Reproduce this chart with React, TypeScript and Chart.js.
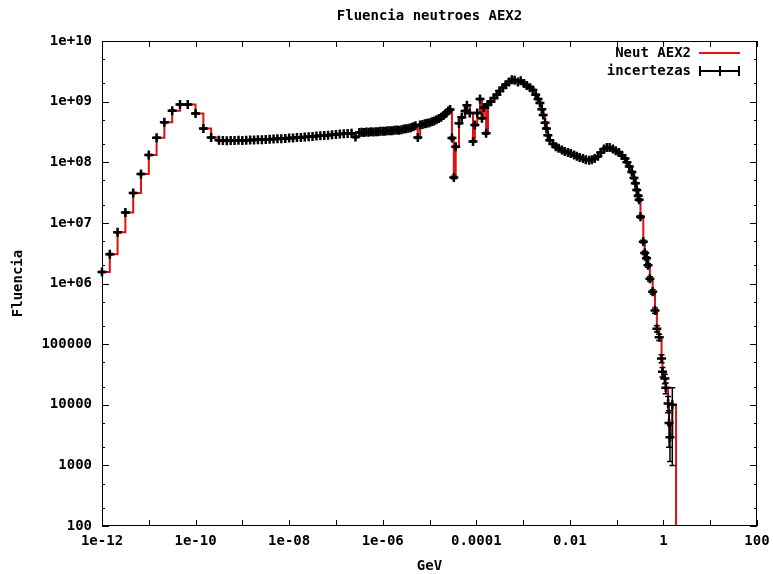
import { useEffect, useRef } from "react";
import { Chart, registerables } from "chart.js";

Chart.register(...registerables);

// ---- Data ----
// log10 of the energy in GeV
const logEnergy: number[] = [
  // 6 bins / decade (thermal)
  -12, -11.833, -11.667, -11.5, -11.333, -11.167, -11, -10.833, -10.667, -10.5,
  -10.333, -10.167, -10, -9.833, -9.667,
  // epithermal plateau
  -9.5, -9.417, -9.333, -9.25, -9.167, -9.083, -9, -8.917, -8.833, -8.75,
  -8.667, -8.583, -8.5, -8.417, -8.333, -8.25, -8.167, -8.083, -8, -7.917,
  -7.833, -7.75, -7.667, -7.583, -7.5, -7.417, -7.333, -7.25, -7.167, -7.083,
  -7, -6.917, -6.833, -6.75, -6.667, -6.583, -6.5,
  // 20 bins / decade
  -6.45, -6.4, -6.35, -6.3, -6.25, -6.2, -6.15, -6.1, -6.05, -6,
  -5.95, -5.9, -5.85, -5.8, -5.75, -5.7, -5.65, -5.6, -5.55, -5.5,
  -5.45, -5.4, -5.35, -5.3, -5.25, -5.2, -5.15, -5.1, -5.05, -5,
  -4.95, -4.9, -4.85, -4.8, -4.75, -4.7, -4.65,
  // resonances, fast peak and fall-off
  -4.6, -4.56, -4.52, -4.48, -4.44, -4.37, -4.31, -4.24, -4.2, -4.14,
  -4.07, -4.03, -3.98, -3.92, -3.88, -3.84, -3.79, -3.75, -3.69, -3.62,
  -3.56, -3.5, -3.43, -3.37, -3.3, -3.24, -3.18, -3.11, -3.05, -2.98,
  -2.92, -2.85, -2.79, -2.73, -2.68, -2.64, -2.6, -2.57, -2.53, -2.5,
  -2.47, -2.43, -2.36, -2.3, -2.24, -2.17, -2.11, -2.04, -1.98, -1.91,
  -1.85, -1.79, -1.72, -1.66, -1.59, -1.53, -1.47, -1.4, -1.34, -1.27,
  -1.21, -1.15, -1.08, -1.02, -0.95, -0.89, -0.82, -0.78, -0.73, -0.675,
  -0.63, -0.6, -0.57, -0.54, -0.52, -0.49, -0.43, -0.4, -0.36, -0.33,
  -0.29, -0.23, -0.18, -0.14, -0.09, -0.04, -0.02, 0.03, 0.05, 0.1,
  0.12, 0.14, 0.19, 0.27,
];

const fluence: number[] = [
  1.55e6, 3.05e6, 7.0e6, 1.48e7, 3.1e7, 6.4e7, 1.32e8, 2.54e8, 4.55e8, 7.1e8,
  9.0e8, 9.0e8, 6.4e8, 3.6e8, 2.55e8,
  2.3e8, 2.28e8, 2.27e8, 2.29e8, 2.28e8, 2.3e8, 2.29e8, 2.31e8, 2.32e8, 2.33e8,
  2.35e8, 2.36e8, 2.38e8, 2.4e8, 2.41e8, 2.43e8, 2.45e8, 2.47e8, 2.5e8, 2.52e8,
  2.55e8, 2.57e8, 2.6e8, 2.63e8, 2.66e8, 2.7e8, 2.73e8, 2.77e8, 2.8e8, 2.84e8,
  2.88e8, 2.92e8, 2.95e8, 2.99e8, 3.02e8, 2.62e8, 3.1e8,
  3.12e8, 3.1e8, 3.15e8, 3.13e8, 3.18e8, 3.16e8, 3.2e8, 3.19e8, 3.24e8, 3.26e8,
  3.25e8, 3.3e8, 3.32e8, 3.3e8, 3.36e8, 3.4e8, 3.38e8, 3.45e8, 3.52e8, 3.58e8,
  3.65e8, 3.72e8, 3.85e8, 4.0e8, 2.55e8, 4.1e8, 4.2e8, 4.3e8, 4.4e8, 4.5e8,
  4.65e8, 4.8e8, 5.0e8, 5.25e8, 5.5e8, 5.9e8, 6.4e8,
  7.0e8, 7.4e8, 2.5e8, 5.6e7, 1.8e8, 4.4e8, 5.5e8, 7.0e8, 8.7e8, 6.5e8,
  2.2e8, 4.1e8, 6.5e8, 1.1e9, 5.3e8, 8.0e8, 3.0e8, 9.0e8, 1.0e9, 1.15e9,
  1.3e9, 1.5e9, 1.7e9, 1.9e9, 2.1e9, 2.3e9, 2.25e9, 2.1e9, 2.2e9, 2.0e9,
  1.85e9, 1.7e9, 1.55e9, 1.3e9, 1.1e9, 9.5e8, 7.5e8, 6.0e8, 4.5e8, 3.6e8,
  2.8e8, 2.3e8, 2.0e8, 1.8e8, 1.7e8, 1.6e8, 1.5e8, 1.45e8, 1.4e8, 1.32e8,
  1.25e8, 1.2e8, 1.15e8, 1.1e8, 1.08e8, 1.1e8, 1.15e8, 1.25e8, 1.45e8, 1.65e8,
  1.75e8, 1.75e8, 1.65e8, 1.55e8, 1.45e8, 1.3e8, 1.15e8, 1.0e8, 8.5e7, 6.9e7,
  5.5e7, 4.5e7, 3.5e7, 2.8e7, 2.4e7, 1.26e7, 4.9e6, 3.2e6, 2.6e6, 2.0e6,
  1.2e6, 7.3e5, 3.6e5, 1.8e5, 1.3e5, 5.8e4, 3.5e4, 2.7e4, 1.9e4, 1.05e4,
  5.0e3, 2.9e3, 1.0e4, 1,
];

// relative uncertainty of each bin
const relError: number[] = [
  0.02, 0.02, 0.02, 0.02, 0.02, 0.02, 0.02, 0.02, 0.02, 0.02,
  0.02, 0.02, 0.02, 0.02, 0.02,
  0.02, 0.02, 0.02, 0.02, 0.02, 0.02, 0.02, 0.02, 0.02, 0.02,
  0.02, 0.02, 0.02, 0.02, 0.02, 0.02, 0.02, 0.02, 0.02, 0.02,
  0.02, 0.02, 0.02, 0.02, 0.02, 0.02, 0.02, 0.02, 0.02, 0.02,
  0.02, 0.02, 0.02, 0.02, 0.02, 0.03, 0.02,
  0.02, 0.02, 0.02, 0.02, 0.02, 0.02, 0.02, 0.02, 0.02, 0.02,
  0.02, 0.02, 0.02, 0.02, 0.02, 0.02, 0.02, 0.02, 0.02, 0.02,
  0.02, 0.02, 0.02, 0.02, 0.03, 0.02, 0.02, 0.02, 0.02, 0.02,
  0.02, 0.02, 0.02, 0.02, 0.02, 0.02, 0.02,
  0.02, 0.02, 0.03, 0.05, 0.03, 0.02, 0.02, 0.02, 0.02, 0.02,
  0.03, 0.02, 0.02, 0.02, 0.02, 0.02, 0.03, 0.02, 0.02, 0.02,
  0.02, 0.02, 0.02, 0.02, 0.02, 0.02, 0.02, 0.02, 0.02, 0.02,
  0.02, 0.02, 0.02, 0.02, 0.02, 0.02, 0.02, 0.02, 0.02, 0.02,
  0.02, 0.02, 0.02, 0.02, 0.02, 0.02, 0.02, 0.02, 0.02, 0.02,
  0.02, 0.02, 0.02, 0.02, 0.02, 0.02, 0.02, 0.02, 0.02, 0.02,
  0.02, 0.02, 0.02, 0.02, 0.02, 0.02, 0.02, 0.02, 0.02, 0.03,
  0.03, 0.03, 0.03, 0.04, 0.04, 0.05, 0.05, 0.06, 0.06, 0.07,
  0.08, 0.08, 0.1, 0.12, 0.12, 0.15, 0.18, 0.18, 0.2, 0.3,
  0.6, 0.6, 0.9, 0,
];

const xTickValues = [1e-12, 1e-10, 1e-8, 1e-6, 1e-4, 1e-2, 1, 100];
const xTickLabels = ["1e-12", "1e-10", "1e-08", "1e-06", "0.0001", "0.01", "1", "100"];
const xMarkValues = [1e-12, 1e-11, 1e-10, 1e-9, 1e-8, 1e-7, 1e-6, 1e-5, 1e-4, 1e-3, 1e-2, 1e-1, 1, 10, 100];
const yTickValues = [100, 1000, 1e4, 1e5, 1e6, 1e7, 1e8, 1e9, 1e10];
const yTickLabels = ["100", "1000", "10000", "100000", "1e+06", "1e+07", "1e+08", "1e+09", "1e+10"];
const yMinorFactors = [2, 5];

const chartTitle = "Fluencia neutroes AEX2";
const xAxisTitle = "GeV";
const yAxisTitle = "Fluencia";
const seriesNames = ["Neut AEX2", "incertezas"];

const RED = "#e01010";
const FONT = "bold 14px 'DejaVu Sans Mono', 'Liberation Mono', monospace";

const points = logEnergy.map((l, i) => ({ x: Math.pow(10, l), y: fluence[i] }));

const framePlugin = {
  id: "gnuplotFrame",
  afterDatasetsDraw(chart: any) {
    const { ctx, chartArea, scales } = chart;
    const xs = scales.x;
    const ys = scales.y;
    ctx.save();
    ctx.strokeStyle = "#000";
    ctx.lineWidth = 1.5;
    for (let i = 0; i < points.length; i++) {
      const e = relError[i];
      if (!e) continue;
      const v = fluence[i];
      const px = xs.getPixelForValue(points[i].x);
      const hiV = v * (1 + e);
      const loV = v * (1 - e);
      let pyHi = ys.getPixelForValue(hiV);
      let pyLo = loV > 0 ? ys.getPixelForValue(loV) : chartArea.bottom;
      pyHi = Math.max(pyHi, chartArea.top);
      pyLo = Math.min(pyLo, chartArea.bottom);
      ctx.beginPath();
      ctx.moveTo(px, pyHi);
      ctx.lineTo(px, pyLo);
      ctx.moveTo(px - 3, pyHi);
      ctx.lineTo(px + 3, pyHi);
      ctx.moveTo(px - 3, pyLo);
      ctx.lineTo(px + 3, pyLo);
      ctx.stroke();
    }
    ctx.restore();
  },
  afterDraw(chart: any) {
    const { ctx, chartArea, scales } = chart;
    const xs = scales.x;
    const ys = scales.y;
    const { left, right, top, bottom } = chartArea;
    ctx.save();
    // border
    ctx.strokeStyle = "#000";
    ctx.lineWidth = 1;
    ctx.strokeRect(left + 0.5, top + 0.5, right - left - 1, bottom - top - 1);
    // ticks
    ctx.beginPath();
    xMarkValues.forEach((v) => {
      const px = Math.round(xs.getPixelForValue(v)) + 0.5;
      ctx.moveTo(px, bottom);
      ctx.lineTo(px, bottom - 6);
      ctx.moveTo(px, top);
      ctx.lineTo(px, top + 6);
    });
    yTickValues.forEach((v) => {
      const py = Math.round(ys.getPixelForValue(v)) + 0.5;
      ctx.moveTo(left, py);
      ctx.lineTo(left + 7, py);
      ctx.moveTo(right, py);
      ctx.lineTo(right - 7, py);
      yMinorFactors.forEach((f) => {
        const mv = v * f;
        if (mv < ys.max) {
          const my = Math.round(ys.getPixelForValue(mv)) + 0.5;
          ctx.moveTo(left, my);
          ctx.lineTo(left + 3, my);
          ctx.moveTo(right, my);
          ctx.lineTo(right - 3, my);
        }
      });
    });
    ctx.stroke();

    // titles
    ctx.fillStyle = "#000";
    ctx.font = FONT;
    ctx.textBaseline = "middle";
    ctx.textAlign = "center";
    ctx.fillText(chartTitle, (left + right) / 2, 16);
    ctx.fillText(xAxisTitle, (left + right) / 2, 566);
    ctx.save();
    ctx.translate(18, (top + bottom) / 2);
    ctx.rotate(-Math.PI / 2);
    ctx.fillText(yAxisTitle, 0, 0);
    ctx.restore();

    // legend
    ctx.textAlign = "right";
    ctx.fillText(seriesNames[0], 691, 53);
    ctx.fillText(seriesNames[1], 691, 71);
    ctx.strokeStyle = RED;
    ctx.lineWidth = 2;
    ctx.beginPath();
    ctx.moveTo(699, 53);
    ctx.lineTo(740, 53);
    ctx.stroke();
    ctx.strokeStyle = "#000";
    ctx.beginPath();
    ctx.moveTo(700, 71);
    ctx.lineTo(739, 71);
    ctx.moveTo(700, 66);
    ctx.lineTo(700, 76);
    ctx.moveTo(739, 66);
    ctx.lineTo(739, 76);
    ctx.moveTo(720, 66);
    ctx.lineTo(720, 76);
    ctx.stroke();
    ctx.restore();
  },
};

export default function App() {
  const canvasRef = useRef<HTMLCanvasElement | null>(null);

  useEffect(() => {
    if (!canvasRef.current) return;
    const tickFont = { family: "'DejaVu Sans Mono', 'Liberation Mono', monospace", size: 14, weight: "bold" as const };
    const chart = new Chart(canvasRef.current, {
      type: "line",
      data: {
        datasets: [
          {
            label: seriesNames[1],
            data: points.slice(0, points.length - 1),
            showLine: false,
            pointStyle: "cross",
            pointRadius: 4.5,
            pointBorderWidth: 2.5,
            pointBorderColor: "#000",
            pointBackgroundColor: "#000",
            borderColor: "#000",
            clip: false,
            order: 0,
          },
          {
            label: seriesNames[0],
            data: points,
            stepped: true,
            borderColor: RED,
            borderWidth: 2,
            pointRadius: 0,
            fill: false,
            order: 1,
          },
        ],
      },
      options: {
        animation: false,
        responsive: false,
        maintainAspectRatio: false,
        devicePixelRatio: 1,
        layout: { padding: { top: 41, right: 16, left: 0, bottom: 0 } },
        plugins: {
          legend: { display: false },
          title: { display: false },
          tooltip: { enabled: false },
        },
        scales: {
          x: {
            type: "logarithmic",
            min: 1e-12,
            max: 100,
            grid: { display: false, drawTicks: false },
            border: { display: false },
            afterBuildTicks: (s: any) => {
              s.ticks = xTickValues.map((v) => ({ value: v }));
            },
            afterFit: (s: any) => {
              s.height = 48;
              s.paddingLeft = 0;
              s.paddingRight = 0;
            },
            ticks: {
              autoSkip: false,
              maxRotation: 0,
              minRotation: 0,
              padding: 7,
              color: "#000",
              font: tickFont,
              callback: (_v: any, i: number) => xTickLabels[i],
            },
          },
          y: {
            type: "logarithmic",
            min: 100,
            max: 1e10,
            grid: { display: false, drawTicks: false },
            border: { display: false },
            afterBuildTicks: (s: any) => {
              s.ticks = yTickValues.map((v) => ({ value: v }));
            },
            afterFit: (s: any) => {
              s.width = 102;
              s.paddingTop = 0;
              s.paddingBottom = 0;
            },
            ticks: {
              autoSkip: false,
              padding: 10,
              color: "#000",
              font: tickFont,
              callback: (_v: any, i: number) => yTickLabels[i],
            },
          },
        },
      },
      plugins: [framePlugin],
    });
    return () => chart.destroy();
  }, []);

  return (
    <div style={{ position: "absolute", left: 0, top: 0, width: 773, height: 574, background: "#fff" }}>
      <canvas ref={canvasRef} width={773} height={574} style={{ display: "block" }} />
    </div>
  );
}
